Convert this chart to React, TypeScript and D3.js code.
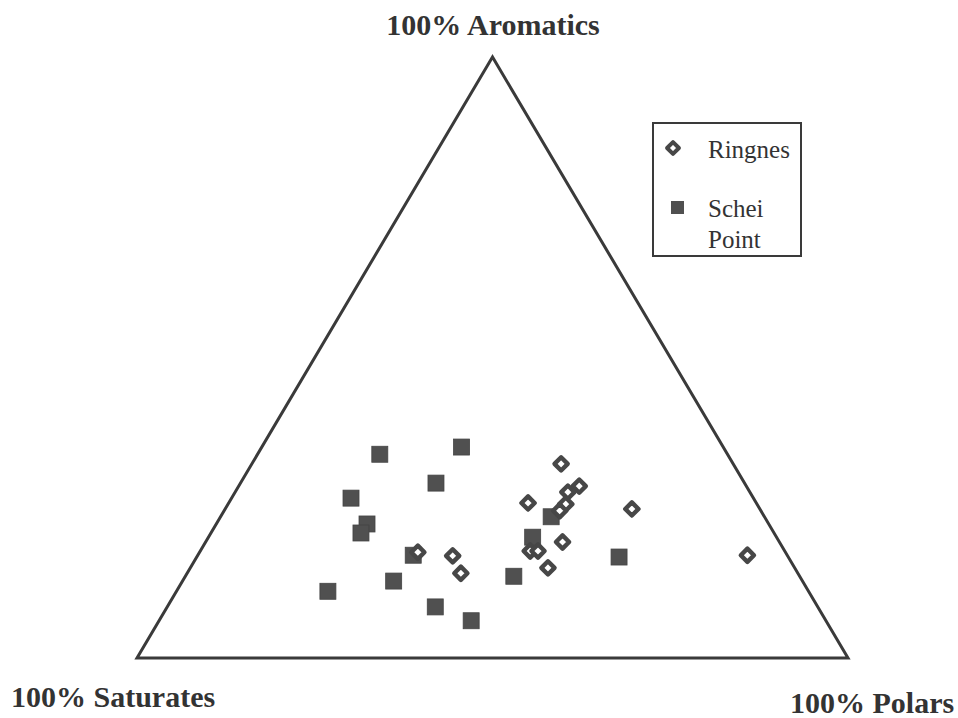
import React from "react";
import * as d3 from "d3";

// [saturates, aromatics, polars] in %
const ringnes: [number, number, number][] = [
  [51.7, 17.6, 30.7],
  [47.1, 17.0, 35.9],
  [47.4, 14.1, 38.5],
  [24.2, 32.3, 43.5],
  [23.5, 28.6, 47.9],
  [25.6, 27.6, 46.8],
  [32.1, 25.8, 42.1],
  [26.9, 25.6, 47.5],
  [28.3, 24.5, 47.2],
  [35.8, 17.8, 46.4],
  [34.7, 17.8, 47.5],
  [30.5, 19.3, 50.2],
  [34.7, 15.0, 50.3],
  [18.0, 24.8, 57.2],
  [5.6, 17.1, 77.3],
];

const scheiPoint: [number, number, number][] = [
  [48.9, 33.9, 17.2],
  [36.8, 35.1, 28.1],
  [43.4, 29.1, 27.5],
  [56.6, 26.6, 16.8],
  [56.5, 22.3, 21.2],
  [58.1, 20.8, 21.1],
  [52.6, 17.1, 30.3],
  [57.5, 12.8, 29.7],
  [67.6, 11.1, 21.3],
  [53.8, 8.5, 37.7],
  [49.9, 6.2, 43.9],
  [30.0, 23.5, 46.5],
  [34.3, 20.1, 45.6],
  [40.2, 13.6, 46.2],
  [23.8, 16.8, 59.4],
];

const cornerLabels = ["100% Aromatics", "100% Saturates", "100% Polars"];
const legendLabels = ["Ringnes", "Schei", "Point"];

const width = 958;
const height = 718;
const ink = "#3a3a3a";
const serif = "'Liberation Serif', 'Times New Roman', serif";

// horizontal: share of the way from saturates corner to polars corner
const x = d3.scaleLinear().domain([0, 1]).range([137, 848]);
// vertical: aromatics fraction
const y = d3.scaleLinear().domain([0, 1]).range([658, 57]);

function toXY([s, a, p]: [number, number, number]): [number, number] {
  const t = s + a + p;
  const fa = a / t;
  const fp = p / t;
  return [x(fp + fa / 2), y(fa)];
}

const corners: [number, number, number][] = [
  [0, 100, 0],
  [100, 0, 0],
  [0, 0, 100],
];

const sq = 16;
const dh = 6.6;
const diamondPath = `M0,${-dh}L${dh},0L0,${dh}L${-dh},0Z`;

export default function App() {
  const tri = d3.line()(corners.map(toXY)) + "Z";

  return (
    <svg
      width={width}
      height={height}
      style={{ position: "absolute", left: 0, top: 0, background: "#fff" }}
    >
      <rect width={width} height={height} fill="#fff" />
      <path d={tri} fill="none" stroke={ink} strokeWidth={3} strokeLinejoin="miter" />

      {scheiPoint.map((d, i) => {
        const [cx, cy] = toXY(d);
        return (
          <rect
            key={"s" + i}
            x={cx - sq / 2}
            y={cy - sq / 2}
            width={sq}
            height={sq}
            fill="#505050"
            stroke="#444"
            strokeWidth={0.8}
          />
        );
      })}

      {ringnes.map((d, i) => {
        const [cx, cy] = toXY(d);
        return (
          <path
            key={"r" + i}
            d={diamondPath}
            transform={`translate(${cx},${cy})`}
            fill="#fff"
            stroke="#474747"
            strokeWidth={4.4}
            strokeLinejoin="round"
          />
        );
      })}

      {/* corner labels */}
      <g fontFamily={serif} fontWeight="bold" fontSize={30} fill="#333">
        <text x={493} y={35} textAnchor="middle">{cornerLabels[0]}</text>
        <text x={11} y={707}>{cornerLabels[1]}</text>
        <text x={790} y={713}>{cornerLabels[2]}</text>
      </g>

      {/* legend */}
      <g fontFamily={serif} fontSize={25} fill="#333">
        <rect x={653} y={123} width={148} height={133} fill="#fff" stroke={ink} strokeWidth={2} />
        <path
          d={diamondPath}
          transform="translate(673,148) scale(0.9)"
          fill="#fff"
          stroke="#474747"
          strokeWidth={4.4}
          strokeLinejoin="round"
        />
        <text x={708} y={158}>{legendLabels[0]}</text>
        <rect x={671} y={201} width={13} height={13} fill="#505050" />
        <text x={708} y={217}>{legendLabels[1]}</text>
        <text x={708} y={248}>{legendLabels[2]}</text>
      </g>
    </svg>
  );
}
